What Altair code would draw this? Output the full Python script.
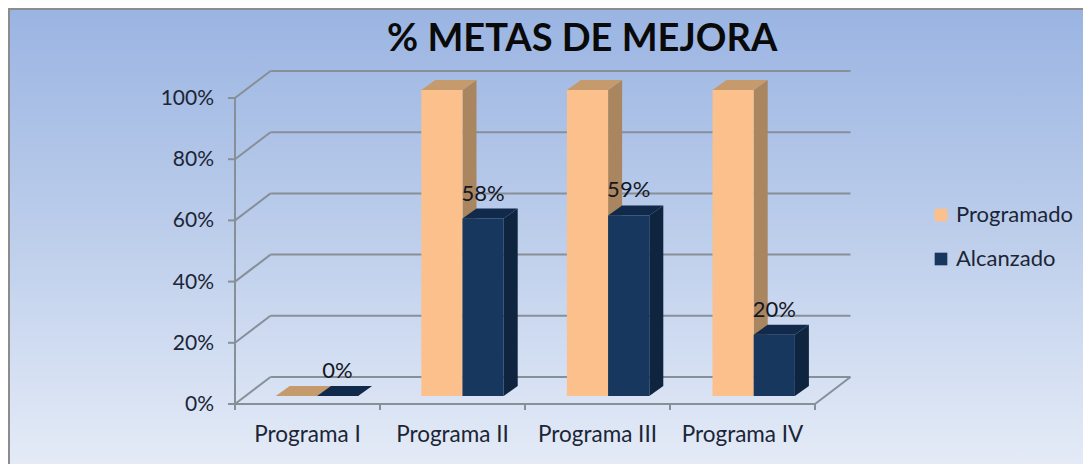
import altair as alt
import pandas as pd

programas = ["Programa I", "Programa II", "Programa III", "Programa IV"]
programado = [0, 100, 100, 100]
alcanzado = [0, 58, 59, 20]
etiquetas_alcanzado = ["0%", "58%", "59%", "20%"]
ticks_y = [0, 20, 40, 60, 80, 100]
etiquetas_y = ["0%", "20%", "40%", "60%", "80%", "100%"]
series = ["Programado", "Alcanzado"]

W, H = 1075, 456
PX_X, PX_Y = 145.0, 3.06          # pixels per category / per percent
ORIG_X, ORIG_Y = 227.0, 396.0     # svg pixel of category 0 / 0 %


def ux(px):
    return px / PX_X


def uy(px):
    return px / PX_Y


x_scale = alt.Scale(domain=[-ORIG_X / PX_X, (W - ORIG_X) / PX_X], nice=False, zero=False)
y_scale = alt.Scale(domain=[(ORIG_Y - H) / PX_Y, ORIG_Y / PX_Y], nice=False, zero=False)
X = lambda f: alt.X(f, type="quantitative", scale=x_scale, axis=None, title=None)
Y = lambda f: alt.Y(f, type="quantitative", scale=y_scale, axis=None, title=None)

WALL_X, WALL_Y = ux(35.5), uy(27)
GAP_X, GAP_Y = ux(10), uy(8)
DEPTH_X, DEPTH_Y = ux(14), uy(10)
BAR_W = ux(41.2)
BAR_STEP = ux(145.6)

GRID = "#878F98"
INK = "#1B2536"

# frame of the 3-D box
rules = []
for t in ticks_y:
    rules.append(dict(x=0, y=t, x2=WALL_X, y2=t + WALL_Y))
    rules.append(dict(x=WALL_X, y=t + WALL_Y, x2=4 + WALL_X, y2=t + WALL_Y))
    rules.append(dict(x=-ux(7), y=t, x2=0, y2=t))
rules.append(dict(x=0, y=0, x2=0, y2=100))
rules.append(dict(x=0, y=0, x2=4, y2=0))
rules.append(dict(x=4, y=0, x2=4 + WALL_X, y2=WALL_Y))
for i in range(5):
    rules.append(dict(x=i, y=0, x2=i, y2=-uy(6)))
rule_df = pd.DataFrame(rules)

fronts, sides, tops, labels = [], [], [], []
for i, prog in enumerate(programas):
    centre = 1.5 + (i - 1) * BAR_STEP + GAP_X
    for j, (name, vals) in enumerate(zip(series, [programado, alcanzado])):
        v = vals[i]
        x0 = centre + (j - 1) * BAR_W
        x1 = x0 + BAR_W
        key = f"{prog}-{name}"
        fronts.append(dict(key=key, serie=name, x=x0, x2=x1, y=GAP_Y, y2=GAP_Y + v))
        sides.append(dict(key=key, serie=name, x=x1, lo=GAP_Y, hi=GAP_Y + v))
        sides.append(dict(key=key, serie=name, x=x1 + DEPTH_X, lo=GAP_Y + DEPTH_Y, hi=GAP_Y + v + DEPTH_Y))
        tops.append(dict(key=key, serie=name, y=GAP_Y + v, a=x0, b=x1))
        tops.append(dict(key=key, serie=name, y=GAP_Y + v + DEPTH_Y, a=x0 + DEPTH_X, b=x1 + DEPTH_X))
    labels.append(dict(x=centre + BAR_W / 2, y=GAP_Y + alcanzado[i], t=etiquetas_alcanzado[i]))
fronts, sides, tops = map(pd.DataFrame, (fronts, sides, tops))

bg = alt.Chart(pd.DataFrame({"a": [0]})).mark_rect(
    color=alt.Gradient(
        gradient="linear", x1=0, x2=0, y1=0, y2=1,
        stops=[alt.GradientStop(offset=0, color="#9AB4E2"),
               alt.GradientStop(offset=0.5, color="#BDCEEB"),
               alt.GradientStop(offset=1, color="#E4EBF7")],
    )
).encode(x=alt.value(0), x2=alt.value(W), y=alt.value(0), y2=alt.value(H))

border_l = alt.Chart(pd.DataFrame({"a": [0]})).mark_rule(color="#8C8C8C", strokeWidth=2).encode(
    x=alt.value(1), y=alt.value(0), y2=alt.value(H))
border_t = alt.Chart(pd.DataFrame({"a": [0]})).mark_rule(color="#8C8C8C", strokeWidth=2).encode(
    x=alt.value(0), x2=alt.value(W), y=alt.value(1))

grid = alt.Chart(rule_df).mark_rule(color=GRID, strokeWidth=2).encode(
    x=X("x"), x2="x2", y=Y("y"), y2="y2")

color = alt.Color(
    "serie:N",
    scale=alt.Scale(domain=series, range=["#FCC08C", "#17375E"]),
    legend=alt.Legend(
        title=None, orient="none", legendX=922, legendY=196,
        symbolType="square", symbolSize=160, symbolStrokeWidth=0, symbolOpacity=1,
        labelFont="Lato", labelFontSize=22, labelColor=INK, rowPadding=22,
        labelOffset=4,
    ),
)


def faces(name, side_col, top_col):
    s = alt.Chart(sides[sides.serie == name]).mark_area(color=side_col, opacity=1).encode(
        x=X("x"), y=Y("lo"), y2="hi", detail="key:N")
    t = alt.Chart(tops[tops.serie == name]).mark_area(color=top_col, opacity=1, orient="horizontal").encode(
        y=Y("y"), x=X("a"), x2="b", detail="key:N")
    f = alt.Chart(fronts[fronts.serie == name]).mark_bar(opacity=1).encode(
        x=X("x"), x2="x2", y=Y("y"), y2="y2", color=color)
    return [s, t, f]


peach = faces("Programado", "#A9865F", "#C59A6D")
navy = faces("Alcanzado", "#0F243E", "#11294A")

val_text = alt.Chart(pd.DataFrame(labels)).mark_text(
    font="Lato", fontSize=22, color="#14171F", baseline="middle", dy=-25
).encode(x=X("x"), y=Y("y"), text="t:N")

ylab = alt.Chart(pd.DataFrame({"y": ticks_y, "t": etiquetas_y, "x": [0] * 6})).mark_text(
    font="Lato", fontSize=21, color=INK, align="right", baseline="middle", dx=-21, dy=1
).encode(x=X("x"), y=Y("y"), text="t:N")

xlab = alt.Chart(pd.DataFrame({
    "x": [i + 0.5 for i in range(4)], "y": [0] * 4, "t": programas
})).mark_text(
    font="Lato", fontSize=22.5, color=INK, baseline="middle", dy=31
).encode(x=X("x"), y=Y("y"), text="t:N")

chart = alt.layer(
    bg, border_l, border_t, grid, *peach, *navy, val_text, ylab, xlab
).properties(
    width=W, height=H, padding=0, autosize="none",
    title=alt.TitleParams(
        "% METAS DE MEJORA", anchor="start", dx=380, dy=56,
        font="Lato", fontSize=38, fontWeight="bold", color="#0A0A0A",
    ),
).configure_view(stroke=None)

chart.save("out.html", embed_options={"renderer": "svg", "actions": False})
